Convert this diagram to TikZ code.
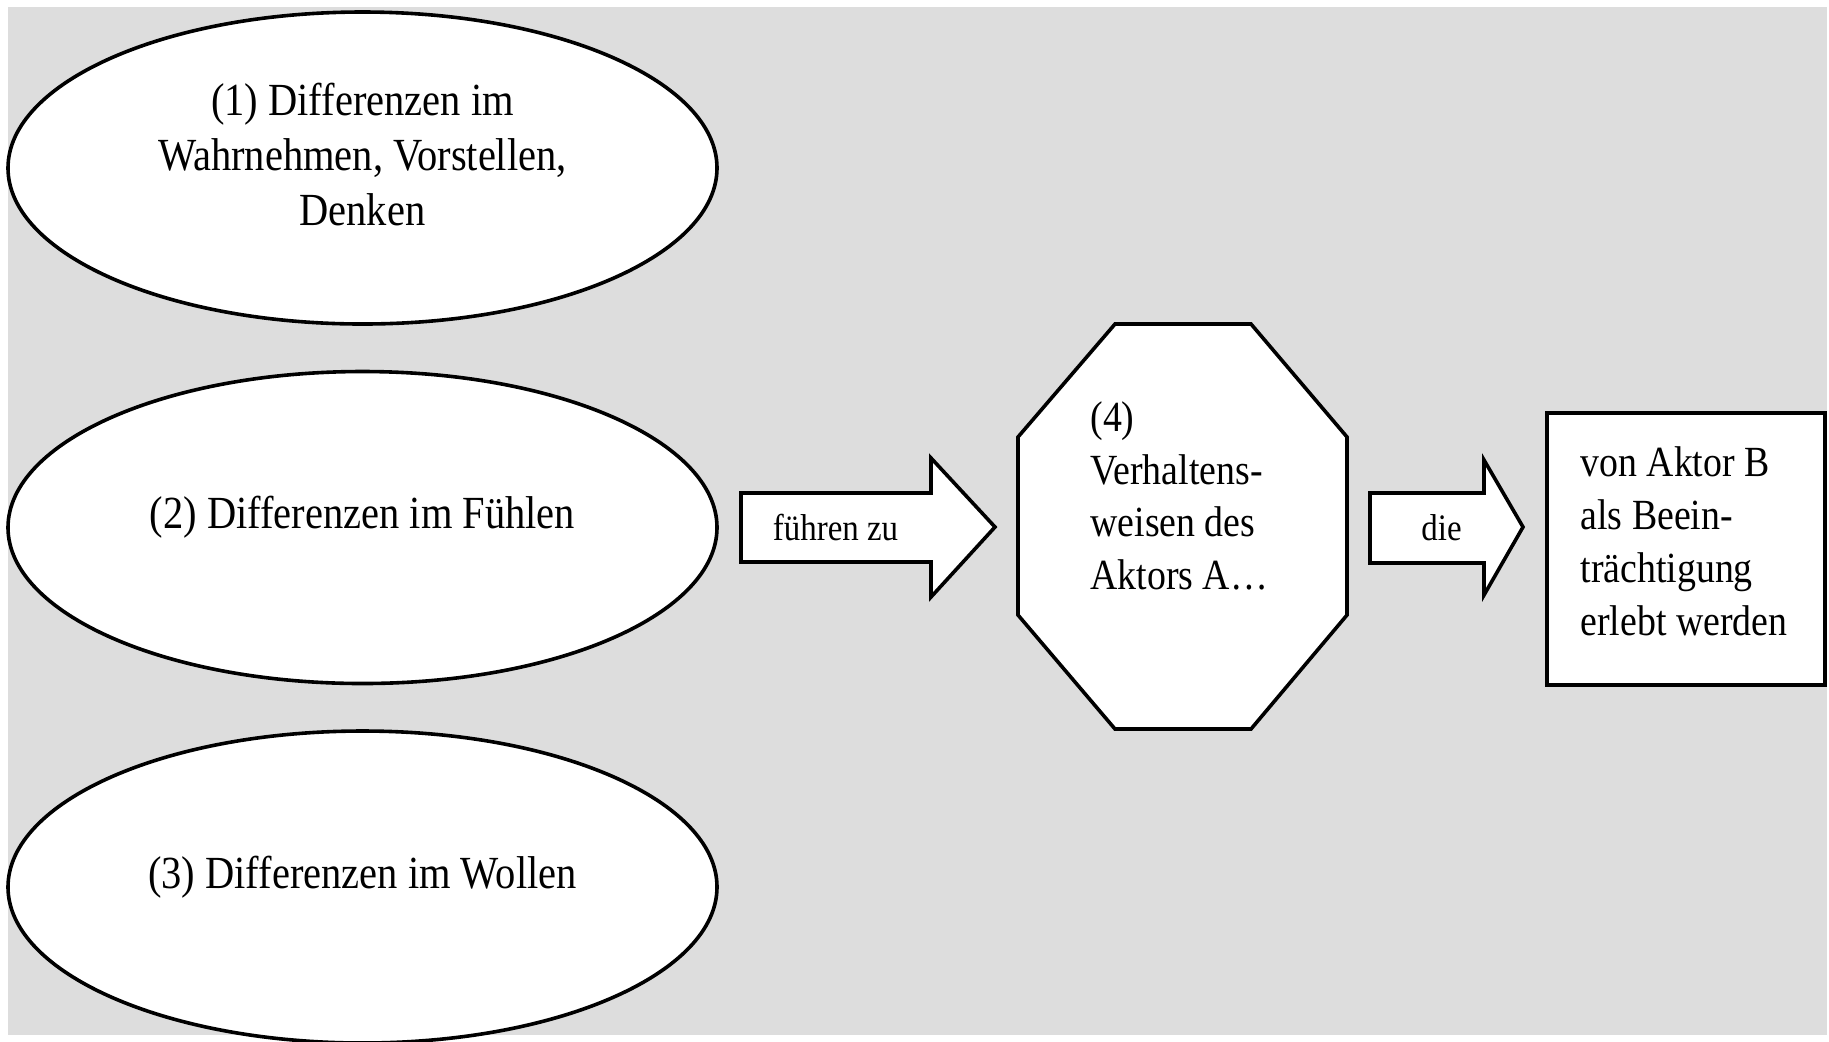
\documentclass[tikz,border=0pt]{standalone}
\usepackage{fontspec}
\setmainfont{Liberation Serif}[FakeStretch=0.88]
\usetikzlibrary{shapes.geometric,calc}
\definecolor{bggray}{RGB}{221,221,221}
\newcommand{\fEll}{\fontsize{23pt}{27.5pt}\selectfont}
\newcommand{\fMid}{\fontsize{21.5pt}{26.4pt}\selectfont}
\newcommand{\fArr}{\fontsize{18.7pt}{22pt}\selectfont}
\tikzset{
  shp/.style={draw=black, line width=1.8pt, fill=white, line join=miter},
  ellnode/.style={shp, ellipse, minimum width=354.5pt, minimum height=156pt, inner sep=0pt},
  elltext/.style={align=center, font=\fEll, inner sep=0pt},
  arrtext/.style={font=\fArr, inner sep=0pt, anchor=base},
}
\begin{document}
\begin{tikzpicture}[x=0.5pt,y=-0.5pt]
\useasboundingbox (0,0) rectangle (1829,1041);
\clip (0,0) rectangle (1829,1041);
\fill[bggray] (8,7) rectangle (1827,1035);

% ellipses
\node[ellnode, label={[elltext, yshift=6.5pt]center:(1) Differenzen im\\Wahrnehmen, Vorstellen,\\Denken}] (e1) at (362.5,168) {};
\node[ellnode, label={[elltext, yshift=5pt]center:(2) Differenzen im Fühlen}] (e2) at (362.5,527.5) {};
\node[ellnode, label={[elltext, yshift=5pt]center:(3) Differenzen im Wollen}] (e3) at (362.5,887) {};

% block arrow "führen zu"
\draw[shp] (741,493) -- (931,493) -- (931,458) -- (995,527) -- (931,597) -- (931,562) -- (741,562) -- cycle;
\node[arrtext] (fz) at (835.5,540) {führen zu};

% octagon
\node[rectangle, minimum width=164.5pt, minimum height=202.5pt, inner sep=0pt, outer sep=0pt] (oct) at (1182.5,526.5) {};
\draw[shp] ($(oct.north west)+(97,0)$) -- ($(oct.north east)+(-96,0)$) -- ($(oct.north east)+(0,113)$)
  -- ($(oct.south east)+(0,-114)$) -- ($(oct.south east)+(-96,0)$) -- ($(oct.south west)+(97,0)$)
  -- ($(oct.south west)+(0,-114)$) -- ($(oct.north west)+(0,113)$) -- cycle;
\node[anchor=north west, align=left, font=\fMid, inner sep=0pt] (t4) at (1090,401) {(4)\\Verhaltens-\\weisen des\\Aktors A…};

% block arrow "die"
\draw[shp] (1370,493) -- (1484,493) -- (1484,460) -- (1523,527) -- (1484,595) -- (1484,563) -- (1370,563) -- cycle;
\node[arrtext] (die) at (1441.5,540) {die};

% result box
\node[shp, rectangle, minimum width=139pt, minimum height=136pt, inner sep=0pt,
  label={[align=left, font=\fMid, inner sep=0pt, yshift=3.8pt, xshift=-1pt]center:von Aktor B\\als Beein-\\trächtigung\\erlebt werden}] (box) at (1686,549) {};
\end{tikzpicture}
\end{document}
